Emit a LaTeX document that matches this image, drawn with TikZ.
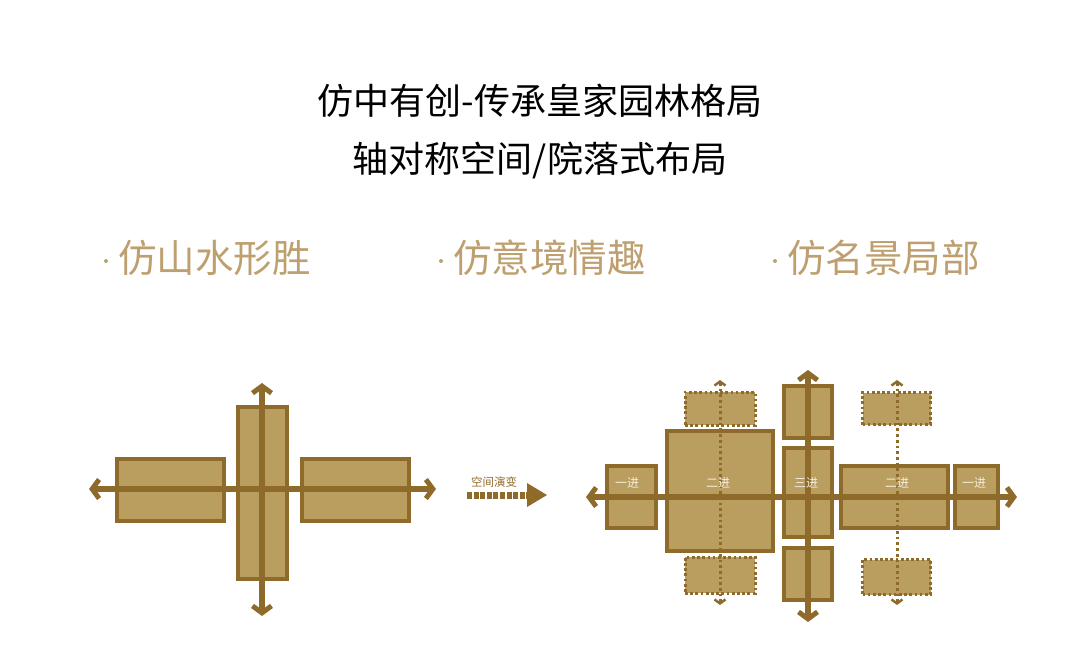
\documentclass[tikz,border=0pt]{standalone}
\usepackage{fontspec}
\newfontfamily\cjk{Noto Sans CJK SC}
\usetikzlibrary{arrows.meta}
\definecolor{tanfill}{RGB}{185,158,95}
\definecolor{brown}{RGB}{142,107,43}
\definecolor{headtan}{RGB}{190,160,112}
\definecolor{labelw}{RGB}{245,238,222}
\tikzset{
  box/.style={draw=brown, fill=tanfill, line width=4pt, inner sep=0pt, outer sep=0pt},
  dotbox/.style={draw=brown, fill=tanfill, line width=3pt, dash pattern=on 2.7pt off 2.5pt, inner sep=0pt, outer sep=0pt},
  axis/.style={draw=brown, line width=5.5pt, {Straight Barb[length=7pt,width=19pt,line width=5pt]}-{Straight Barb[length=7pt,width=19pt,line width=5pt]}},
  dotaxis/.style={draw=brown, line width=3pt, dash pattern=on 2.7pt off 3pt, {Straight Barb[length=4pt,width=11pt,line width=2.5pt]}-{Straight Barb[length=4pt,width=11pt,line width=2.5pt]}},
  title/.style={font=\cjk\fontsize{36}{36}\selectfont, text=black},
  head/.style={font=\cjk\fontsize{38.5}{38.5}\selectfont, text=headtan, anchor=west, inner sep=0pt},
  hdot/.style={fill=headtan, circle, inner sep=0pt, minimum size=4pt},
  lbl/.style={font=\cjk\fontsize{12}{12}\selectfont, text=labelw},
}
\begin{document}
\begin{tikzpicture}[x=1pt,y=-1pt]
\useasboundingbox (0,0) rectangle (1080,670);
% titles
\node[title] (t1) at (540,101) {仿中有创-传承皇家园林格局};
\node[title] (t2) at (540,160) {轴对称空间/院落式布局};
\node[hdot] (d1) at (106,261) {};
\node[head] (h1) at (118,258) {仿山水形胜};
\node[hdot] (d2) at (441,261) {};
\node[head] (h2) at (453,258) {仿意境情趣};
\node[hdot] (d3) at (775,261) {};
\node[head] (h3) at (787,258) {仿名景局部};

% left diagram
\node[box, minimum width=107pt, minimum height=62pt] (L1) at (170.5,490) {};
\node[box, minimum width=49pt, minimum height=172pt] (L2) at (262.5,493) {};
\node[box, minimum width=107pt, minimum height=62pt] (L3) at (355.5,490) {};
\coordinate (LaxW) at (89,489);
\coordinate (LaxE) at (436,489);
\coordinate (LaxN) at (262,383);
\coordinate (LaxS) at (262,616);
\draw[axis] (LaxW) -- (LaxE);
\draw[axis] (LaxN) -- (LaxS);

% middle arrow
\node[font=\cjk\fontsize{11.5}{11.5}\selectfont, text=brown] (mt) at (494,482) {空间演变};
\coordinate (mbS) at (467,495);
\coordinate (mbE) at (529,495);
\draw[brown, line width=7pt, dash pattern=on 5pt off 1.6pt] (mbS) -- (mbE);
\fill[brown] (527,483) -- (547,495) -- (527,507) -- cycle;

% right diagram
\node[dotbox, minimum width=70pt, minimum height=33pt] (D1) at (720,408.5) {};
\node[dotbox, minimum width=70pt, minimum height=36pt] (D2) at (720,575) {};
\node[dotbox, minimum width=68pt, minimum height=32pt] (D3) at (896.5,408.5) {};
\node[dotbox, minimum width=68pt, minimum height=35pt] (D4) at (896.5,577) {};
\node[box, minimum width=49pt, minimum height=62pt] (R1) at (631.5,497) {};
\node[box, minimum width=106pt, minimum height=120pt] (R2) at (720,491) {};
\node[box, minimum width=48pt, minimum height=52pt] (C1) at (808,412) {};
\node[box, minimum width=48pt, minimum height=89pt] (C2) at (808,492.5) {};
\node[box, minimum width=48pt, minimum height=52pt] (C3) at (808,574) {};
\node[box, minimum width=107pt, minimum height=62pt] (R3) at (894.5,497) {};
\node[box, minimum width=43pt, minimum height=62pt] (R4) at (976.5,497) {};

\coordinate (DaN1) at (720,380);
\coordinate (DaS1) at (720,605);
\coordinate (DaN2) at (897,380);
\coordinate (DaS2) at (897,605);
\draw[dotaxis] (DaN1) -- (DaS1);
\draw[dotaxis] (DaN2) -- (DaS2);

\coordinate (RaxW) at (586,497);
\coordinate (RaxE) at (1017,497);
\coordinate (RaxN) at (808,370);
\coordinate (RaxS) at (808,622);
\draw[axis] (RaxW) -- (RaxE);
\draw[axis] (RaxN) -- (RaxS);

\node[lbl] (l1) at (627,483) {一进};
\node[lbl] (l2) at (718,483) {二进};
\node[lbl] (l3) at (806,483) {三进};
\node[lbl] (l4) at (897,483) {二进};
\node[lbl] (l5) at (974,483) {一进};
\end{tikzpicture}
\end{document}
